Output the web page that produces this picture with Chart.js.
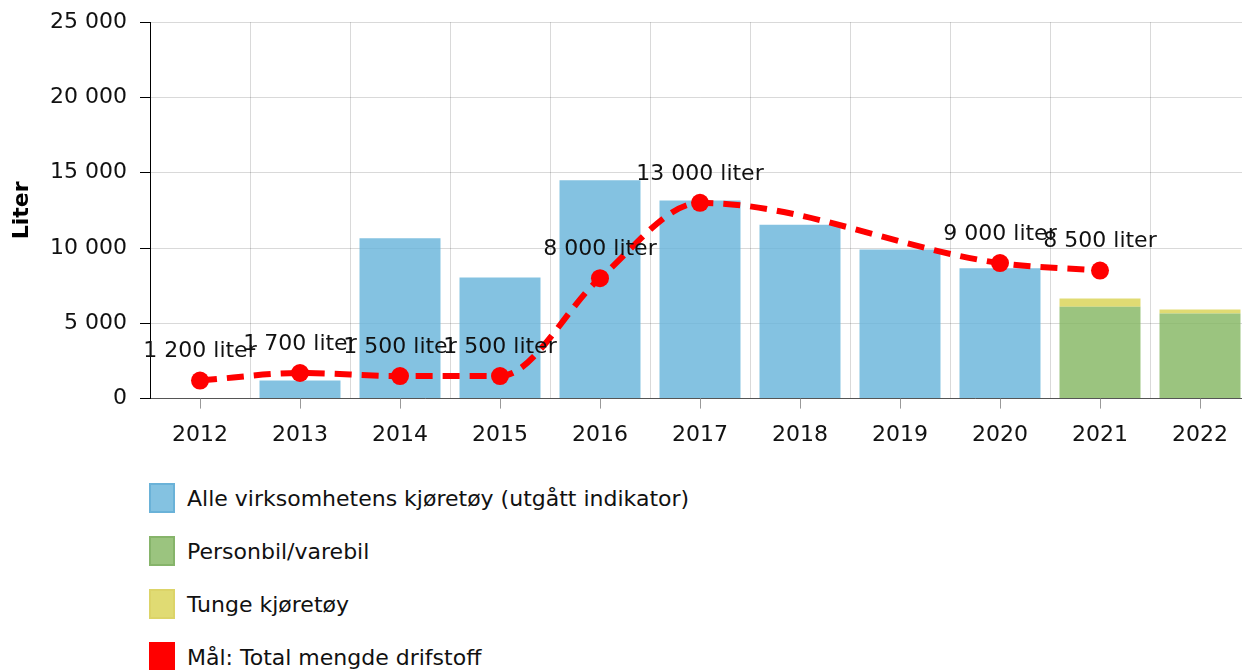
<!DOCTYPE html>
<html>
<head>
<meta charset="utf-8">
<script src="https://cdn.jsdelivr.net/npm/chart.js@4"></script>
<style>
  body { margin: 0; width: 1242px; height: 670px; overflow: hidden; background: #fff; font-family: "DejaVu Sans", sans-serif; }
  #chart { position: absolute; left: 0; top: -4px; }
  #legend { position: absolute; left: 149px; top: 483px; }
  .item { display: flex; align-items: center; height: 30px; margin-bottom: 23px; font-size: 22px; color: #111; }
  .box { width: 22px; height: 26px; border: 2px solid; margin-right: 12px; }
</style>
</head>
<body>
<canvas id="chart" width="1259" height="480"></canvas>
<div id="legend"></div>
<script>
let years = ['2012', '2013', '2014', '2015', '2016', '2017', '2018', '2019', '2020', '2021', '2022']
let alleKjoretoy = [null, 1200, 10650, 8050, 14500, 13150, 11550, 9900, 8650, null, null]
let personbil = [null, null, null, null, null, null, null, null, null, 6100, 5650]
let tunge = [null, null, null, null, null, null, null, null, null, 550, 270]
let maal = [1200, 1700, 1500, 1500, 8000, 13000, null, null, 9000, 8500, null]
let yTicks = [0, 5000, 10000, 15000, 20000, 25000]

function fmt(v) {
    return String(v).replace(/\B(?=(\d{3})+(?!\d))/g, ' ')
}

const FONT = "DejaVu Sans"

// tall etiketter over punktene
const pointLabels = {
    id: 'pointLabels',
    afterDatasetsDraw(chart) {
        let meta = chart.getDatasetMeta(3)
        let ctx = chart.ctx
        ctx.save()
        ctx.font = '22px "' + FONT + '"'
        ctx.fillStyle = '#111'
        ctx.textAlign = 'center'
        ctx.textBaseline = 'middle'
        meta.data.forEach(function (pt, i) {
            if (maal[i] == null) return
            ctx.fillText(fmt(maal[i]) + ' liter', pt.x, pt.y - 29)
        })
        ctx.restore()
    }
}

// små streker under x-aksen midt i hver kategori
const xTickMarks = {
    id: 'xTickMarks',
    afterDraw(chart) {
        let x = chart.scales.x
        let ctx = chart.ctx
        ctx.save()
        ctx.strokeStyle = '#999'
        ctx.lineWidth = 1
        for (let i = 0; i < years.length; i++) {
            let px = Math.round(x.getPixelForTick(i)) + 0.5
            ctx.beginPath()
            ctx.moveTo(px, x.top)
            ctx.lineTo(px, x.top + 10)
            ctx.stroke()
        }
        ctx.restore()
    }
}

let datasets = [
    {
        type: 'bar',
        label: 'Alle virksomhetens kjøretøy (utgått indikator)',
        data: alleKjoretoy,
        backgroundColor: 'rgba(101, 179, 217, 0.8)',
        legendBorder: '#6ab2d8',
        stack: 'bars',
        order: 1
    },
    {
        type: 'bar',
        label: 'Personbil/varebil',
        data: personbil,
        backgroundColor: 'rgba(130, 181, 95, 0.8)',
        legendBorder: '#86b46a',
        stack: 'bars',
        order: 1
    },
    {
        type: 'bar',
        label: 'Tunge kjøretøy',
        data: tunge,
        backgroundColor: 'rgba(216, 210, 80, 0.8)',
        legendBorder: '#dcd468',
        stack: 'bars',
        order: 1
    },
    {
        type: 'line',
        label: 'Mål: Total mengde drifstoff',
        data: maal,
        borderColor: '#ff0000',
        backgroundColor: '#ff0000',
        legendBorder: '#ff0000',
        borderWidth: 6,
        borderDash: [17, 10],
        pointRadius: 9,
        pointHoverRadius: 9,
        pointBorderWidth: 0,
        cubicInterpolationMode: 'monotone',
        spanGaps: true,
        fill: false,
        stack: 'line',
        order: 0
    }
]

let chartContext = document.getElementById('chart')
let chart = new Chart(chartContext, {
    data: { labels: years, datasets: datasets },
    options: {
        responsive: false,
        animation: false,
        devicePixelRatio: 1,
        layout: { padding: { top: 1, bottom: 15, left: 0, right: 0 } },
        datasets: { bar: { categoryPercentage: 1, barPercentage: 0.81 } },
        plugins: {
            legend: { display: false },
            tooltip: { enabled: false }
        },
        scales: {
            x: {
                stacked: true,
                offset: true,
                grid: { offset: true, color: 'rgba(0,0,0,0.15)', tickLength: 10, tickColor: 'transparent' },
                border: { color: '#555', width: 1 },
                ticks: { color: '#111', font: { family: FONT, size: 22 }, padding: 13, maxRotation: 0 }
            },
            y: {
                stacked: true,
                min: 0,
                max: 25000,
                afterFit: function (scale) { scale.width = 150 },
                afterBuildTicks: function (scale) {
                    scale.ticks = yTicks.map(function (v) { return { value: v } })
                },
                grid: { color: 'rgba(0,0,0,0.15)', tickLength: 10, tickColor: '#000' },
                border: { color: '#000', width: 1 },
                ticks: {
                    color: '#111',
                    font: { family: FONT, size: 22 },
                    padding: 13,
                    callback: function (v) { return fmt(v) }
                },
                title: {
                    display: true,
                    text: 'Liter',
                    color: '#000',
                    font: { family: FONT, size: 22, weight: 'bold' },
                    padding: { top: 9, bottom: 4 }
                }
            }
        }
    },
    plugins: [pointLabels, xTickMarks]
})

// legende under grafen, en linje per serie
let legendElement = document.getElementById('legend')
for (let ds of datasets) {
    let item = document.createElement('div')
    item.className = 'item'
    item.innerHTML = `<span class="box" style="background:${ds.backgroundColor};border-color:${ds.legendBorder}"></span><span>${ds.label}</span>`
    legendElement.appendChild(item)
}
</script>
</body>
</html>
